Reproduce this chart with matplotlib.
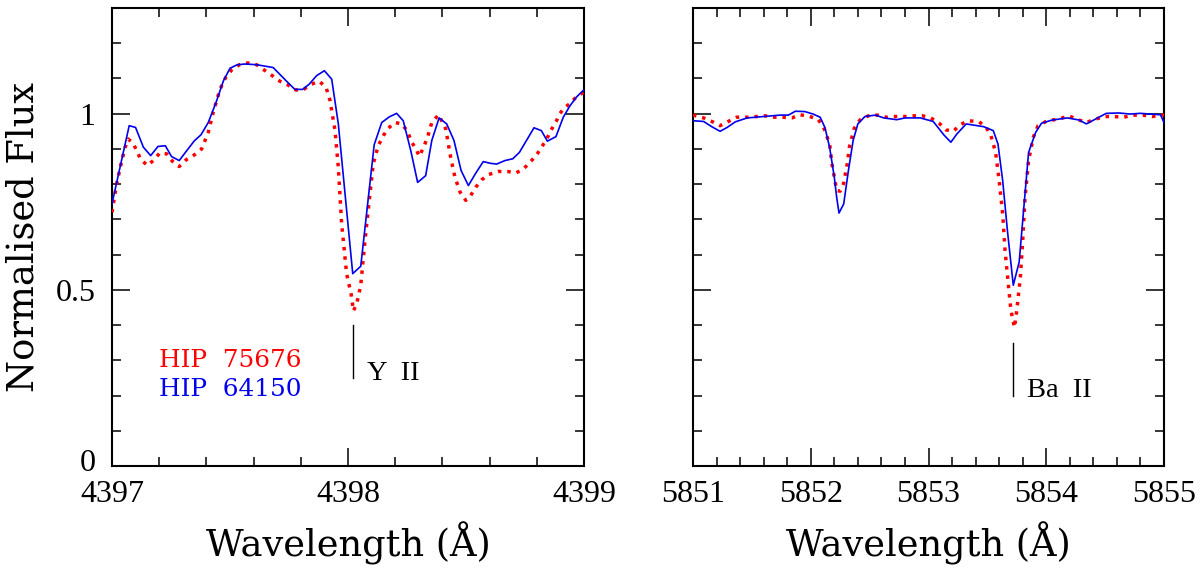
import numpy as np
import matplotlib
matplotlib.use("Agg")
import matplotlib.pyplot as plt
import matplotlib.transforms as mtransforms
from matplotlib.ticker import MultipleLocator, FixedFormatter, FixedLocator

# Y II region, HIP 64150 (blue) and HIP 75676 (red)
y_blue_wave = [4397.00, 4397.073, 4397.10, 4397.133, 4397.164, 4397.195, 4397.226, 4397.253,
               4397.285, 4397.319, 4397.349, 4397.377, 4397.408, 4397.441, 4397.472, 4397.500,
               4397.531, 4397.564, 4397.613, 4397.683, 4397.740, 4397.775, 4397.808, 4397.836,
               4397.867, 4397.900, 4397.931, 4397.959, 4398.020, 4398.054, 4398.111, 4398.143,
               4398.175, 4398.206, 4398.234, 4398.266, 4398.295, 4398.329, 4398.355, 4398.386,
               4398.418, 4398.449, 4398.479, 4398.510, 4398.541, 4398.573, 4398.605, 4398.630,
               4398.665, 4398.698, 4398.726, 4398.757, 4398.788, 4398.819, 4398.845, 4398.881,
               4398.912, 4398.941, 4398.969, 4399.00]
y_blue_flux = [0.744, 0.966, 0.961, 0.905, 0.881, 0.907, 0.909, 0.878,
               0.867, 0.897, 0.923, 0.940, 0.975, 1.032, 1.093, 1.129,
               1.139, 1.141, 1.139, 1.131, 1.092, 1.069, 1.069, 1.084,
               1.108, 1.122, 1.098, 0.971, 0.546, 0.567, 0.912, 0.975,
               0.991, 1.001, 0.980, 0.895, 0.805, 0.824, 0.924, 0.988,
               0.971, 0.924, 0.839, 0.796, 0.831, 0.864, 0.859, 0.857,
               0.867, 0.872, 0.890, 0.925, 0.960, 0.952, 0.922, 0.935,
               0.990, 1.023, 1.048, 1.068]

y_red_wave = [4397.00, 4397.02, 4397.037, 4397.055, 4397.069, 4397.09, 4397.123, 4397.151,
              4397.178, 4397.203, 4397.232, 4397.256, 4397.285, 4397.316, 4397.349, 4397.380,
              4397.408, 4397.429, 4397.458, 4397.482, 4397.507, 4397.540, 4397.575, 4397.613,
              4397.645, 4397.679, 4397.712, 4397.747, 4397.780, 4397.814, 4397.846, 4397.878,
              4397.907, 4397.924, 4397.945, 4397.959, 4397.973, 4397.994, 4398.013, 4398.023,
              4398.037, 4398.054, 4398.072, 4398.090, 4398.107, 4398.128, 4398.150, 4398.171,
              4398.199, 4398.228, 4398.252, 4398.270, 4398.288, 4398.302, 4398.319, 4398.336,
              4398.355, 4398.384, 4398.414, 4398.435, 4398.453, 4398.475, 4398.499, 4398.520,
              4398.541, 4398.566, 4398.594, 4398.637, 4398.675, 4398.712, 4398.743, 4398.771,
              4398.800, 4398.821, 4398.842, 4398.859, 4398.880, 4398.898, 4398.919, 4398.941,
              4398.962, 4398.983, 4399.00]
y_red_flux = [0.720, 0.801, 0.853, 0.903, 0.928, 0.916, 0.869, 0.853,
              0.869, 0.889, 0.886, 0.865, 0.850, 0.870, 0.883, 0.900,
              0.947, 1.004, 1.070, 1.103, 1.124, 1.139, 1.144, 1.139,
              1.124, 1.108, 1.092, 1.081, 1.067, 1.070, 1.084, 1.092,
              1.075, 1.037, 0.952, 0.848, 0.688, 0.546, 0.489, 0.440,
              0.461, 0.513, 0.640, 0.754, 0.858, 0.909, 0.938, 0.959,
              0.975, 0.971, 0.950, 0.919, 0.900, 0.879, 0.903, 0.931,
              0.975, 0.997, 0.957, 0.876, 0.820, 0.777, 0.754, 0.768,
              0.791, 0.812, 0.827, 0.836, 0.836, 0.832, 0.843, 0.862,
              0.884, 0.906, 0.928, 0.952, 0.975, 1.001, 1.018, 1.029,
              1.044, 1.054, 1.062]

# Ba II region
ba_blue_wave = [5851.00, 5851.09, 5851.16, 5851.23, 5851.29, 5851.36, 5851.46, 5851.60,
                5851.74, 5851.81, 5851.87, 5851.95, 5852.02, 5852.08, 5852.12, 5852.16,
                5852.20, 5852.22, 5852.24, 5852.28, 5852.32, 5852.36, 5852.40, 5852.46,
                5852.55, 5852.62, 5852.73, 5852.80, 5852.93, 5853.04, 5853.13, 5853.19,
                5853.24, 5853.32, 5853.47, 5853.55, 5853.59, 5853.63, 5853.67, 5853.72,
                5853.77, 5853.81, 5853.85, 5853.91, 5853.96, 5854.05, 5854.18, 5854.28,
                5854.34, 5854.42, 5854.51, 5854.62, 5854.71, 5854.80, 5854.88, 5854.97,
                5855.00]
ba_blue_flux = [0.980, 0.978, 0.963, 0.950, 0.961, 0.977, 0.988, 0.992,
                0.996, 0.996, 1.007, 1.006, 0.999, 0.990, 0.961, 0.905,
                0.820, 0.763, 0.718, 0.744, 0.839, 0.924, 0.971, 0.992,
                0.996, 0.988, 0.983, 0.988, 0.988, 0.978, 0.940, 0.919,
                0.942, 0.971, 0.963, 0.952, 0.914, 0.810, 0.669, 0.513,
                0.579, 0.735, 0.890, 0.947, 0.973, 0.982, 0.988, 0.982,
                0.971, 0.985, 1.001, 1.002, 0.999, 1.001, 0.999, 0.997,
                0.975]

ba_red_wave = [5851.00, 5851.09, 5851.16, 5851.23, 5851.30, 5851.37, 5851.46, 5851.54,
               5851.61, 5851.69, 5851.76, 5851.84, 5851.91, 5851.99, 5852.06, 5852.11,
               5852.16, 5852.18, 5852.22, 5852.25, 5852.28, 5852.31, 5852.33, 5852.37,
               5852.42, 5852.49, 5852.57, 5852.64, 5852.72, 5852.80, 5852.88, 5852.95,
               5853.02, 5853.09, 5853.15, 5853.21, 5853.27, 5853.34, 5853.43, 5853.49,
               5853.53, 5853.57, 5853.60, 5853.63, 5853.65, 5853.68, 5853.70, 5853.73,
               5853.75, 5853.78, 5853.80, 5853.82, 5853.85, 5853.89, 5853.93, 5854.01,
               5854.11, 5854.19, 5854.28, 5854.34, 5854.42, 5854.50, 5854.57, 5854.66,
               5854.73, 5854.82, 5854.90, 5854.98, 5855.00]
ba_red_flux = [0.996, 0.988, 0.978, 0.966, 0.978, 0.990, 0.990, 0.992,
               0.994, 0.990, 0.990, 0.988, 0.997, 0.992, 0.985, 0.961,
               0.914, 0.858, 0.782, 0.780, 0.803, 0.858, 0.909, 0.959,
               0.983, 0.994, 0.996, 0.990, 0.992, 0.992, 0.994, 0.994,
               0.988, 0.973, 0.954, 0.950, 0.969, 0.980, 0.977, 0.961,
               0.938, 0.890, 0.810, 0.716, 0.612, 0.508, 0.442, 0.393,
               0.442, 0.536, 0.640, 0.763, 0.867, 0.933, 0.966, 0.980,
               0.985, 0.994, 0.982, 0.975, 0.985, 0.992, 0.992, 0.990,
               0.996, 0.996, 0.992, 0.996, 0.996]

star_names = ["HIP  75676", "HIP  64150"]
line_names = ["Y  II", "Ba  II"]
line_waves = [4398.02, 5853.72]
line_marks = [(0.25, 0.40), (0.20, 0.35)]
xlims = [(4397, 4399), (5851, 5855)]
xmajor = [[4397, 4398, 4399], [5851, 5852, 5853, 5854, 5855]]
yticks = [0, 0.5, 1]
ytick_labels = ["0", "0.5", "1"]

RED = "#ff0000"
BLUE = "#0000ee"

fig = plt.figure(figsize=(12, 5.68), dpi=100)
ax1 = fig.add_axes([0.0933, 0.1796, 0.3934, 0.8063])
ax2 = fig.add_axes([0.5775, 0.1796, 0.3925, 0.8063])

tick_font = dict(family="Liberation Serif", size=23)
label_font = dict(family="DejaVu Serif", size=26.5)

panels = [(ax1, y_blue_wave, y_blue_flux, y_red_wave, y_red_flux),
          (ax2, ba_blue_wave, ba_blue_flux, ba_red_wave, ba_red_flux)]

for i, (ax, bw, bf, rw, rf) in enumerate(panels):
    ax.plot(rw, rf, color=RED, lw=2.5, linestyle=(0, (1, 1.7)), zorder=3)
    ax.plot(bw, bf, color=BLUE, lw=1.2, zorder=4)

    ax.set_xlim(*xlims[i])
    ax.set_ylim(0, 1.3)

    ax.xaxis.set_major_locator(FixedLocator(xmajor[i]))
    ax.xaxis.set_minor_locator(MultipleLocator(0.2))
    ax.yaxis.set_major_locator(FixedLocator(yticks))
    ax.yaxis.set_minor_locator(MultipleLocator(0.1))
    ax.tick_params(which="both", direction="in", top=True, right=True, width=1.1)
    ax.tick_params(axis="x", pad=10)
    ax.tick_params(axis="y", pad=12)
    ax.tick_params(which="major", length=13)
    ax.tick_params(which="minor", length=6.5)
    for sp in ax.spines.values():
        sp.set_linewidth(1.5)

    ax.set_xticklabels([str(v) for v in xmajor[i]], **tick_font)
    if i == 0:
        ax.yaxis.set_major_formatter(FixedFormatter(ytick_labels))
        for t in ax.get_yticklabels():
            t.set_fontfamily(tick_font["family"])
            t.set_fontsize(tick_font["size"])
            t.set_verticalalignment("center_baseline")
        ax.set_ylabel("Normalised Flux", labelpad=10, **label_font)
    else:
        ax.set_yticklabels([])

    ax.set_xlabel("Wavelength (\u00c5)", labelpad=9, **label_font)

    # line identification marker
    ax.plot([line_waves[i], line_waves[i]], line_marks[i], color="black", lw=1.0)
    ax.text(line_waves[i] + 0.06 * (xlims[i][1] - xlims[i][0]) / 2, line_marks[i][0] - 0.005,
            line_names[i], family="Liberation Serif", size=20.5,
            ha="left", va="baseline")

# lift the "0" a little so it clears the 4397 below it
zero_label = ax1.yaxis.get_major_ticks()[0].label1
zero_label.set_transform(zero_label.get_transform()
                         + mtransforms.ScaledTranslation(0, 4 / 72, fig.dpi_scale_trans))

ax1.text(4397.2, 0.282, star_names[0], color=RED, family="DejaVu Serif", size=17.8,
         ha="left", va="baseline")
ax1.text(4397.2, 0.2, star_names[1], color=BLUE, family="DejaVu Serif", size=17.8,
         ha="left", va="baseline")

fig.savefig("out.png", dpi=100)
